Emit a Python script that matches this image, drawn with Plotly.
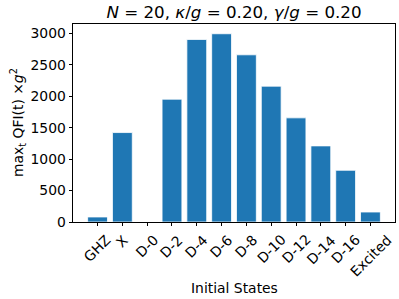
import plotly.graph_objects as go

categories = ["GHZ", "X", "D-0", "D-2", "D-4", "D-6", "D-8", "D-10", "D-12", "D-14", "D-16", "Excited"]
qfi_values = [80, 1423, 0, 1954, 2904, 2995, 2660, 2161, 1657, 1211, 823, 159]
y_ticks = [0, 500, 1000, 1500, 2000, 2500, 3000]

x_pos = list(range(len(categories)))

fig = go.Figure(go.Bar(
    x=x_pos, y=qfi_values, width=0.8,
    marker=dict(color="#1f77b4", line=dict(color="white", width=0.8)),
))

W, H = 399, 299
ml, mr, mt, mb = 73, 4, 24, 77
pw, ph = W - ml - mr, H - mt - mb
font = "DejaVu Sans"

def px_to_paper_y(p):
    return (H - mb - p) / ph

def px_to_paper_x(p):
    return (p - ml) / pw

# rotated category labels, centred under each tick (matplotlib style)
tick_label_annotations = [
    dict(text=c, x=xv, xref="x", y=px_to_paper_y(229), yref="paper",
         xanchor="center", yanchor="top", textangle=-45, showarrow=False,
         font=dict(size=13.9))
    for xv, c in zip(x_pos, categories)
]

fig.update_layout(
    width=W, height=H,
    margin=dict(l=ml, r=mr, t=mt, b=mb, pad=0, autoexpand=False),
    paper_bgcolor="white", plot_bgcolor="white",
    font=dict(family=font, size=13.9, color="black"),
    showlegend=False,
    title=dict(
        text="<i>N</i> = 20, <i>κ</i>/<i>g</i> = 0.20, <i>γ</i>/<i>g</i> = 0.20",
        x=(ml + (W - mr)) / 2 / W, xanchor="center",
        y=1 - 12 / H, yanchor="middle", yref="container",
        font=dict(size=16.7, family=font),
    ),
    xaxis=dict(
        range=[-0.99, 11.99],
        tickmode="array", tickvals=x_pos, showticklabels=False,
        automargin=False,
        ticks="outside", ticklen=3.5, tickwidth=0.8, tickcolor="black",
        showline=True, linecolor="black", linewidth=0.8, mirror=True,
        showgrid=False, zeroline=False,
    ),
    yaxis=dict(
        range=[0, 3150], automargin=False,
        tickmode="array", tickvals=y_ticks,
        ticks="outside", ticklen=3.5, tickwidth=0.8, tickcolor="black",
        showline=True, linecolor="black", linewidth=0.8, mirror=True,
        showgrid=False, zeroline=False,
    ),
    annotations=tick_label_annotations + [
        dict(text="Initial States", xref="paper", yref="paper",
             x=0.5, y=px_to_paper_y(288), xanchor="center", yanchor="middle",
             showarrow=False, font=dict(size=13.9)),
        dict(text="max<sub>t</sub> QFI(t) ×<i>g</i><sup>2</sup>", xref="paper", yref="paper",
             x=px_to_paper_x(18), y=px_to_paper_y(123), xanchor="center", yanchor="middle",
             textangle=-90, showarrow=False, font=dict(size=13.9)),
    ],
)

fig.write_html(
    "out.html",
    config={"displayModeBar": False},
    post_script="document.body.style.margin='0';document.body.style.overflow='hidden';",
)
